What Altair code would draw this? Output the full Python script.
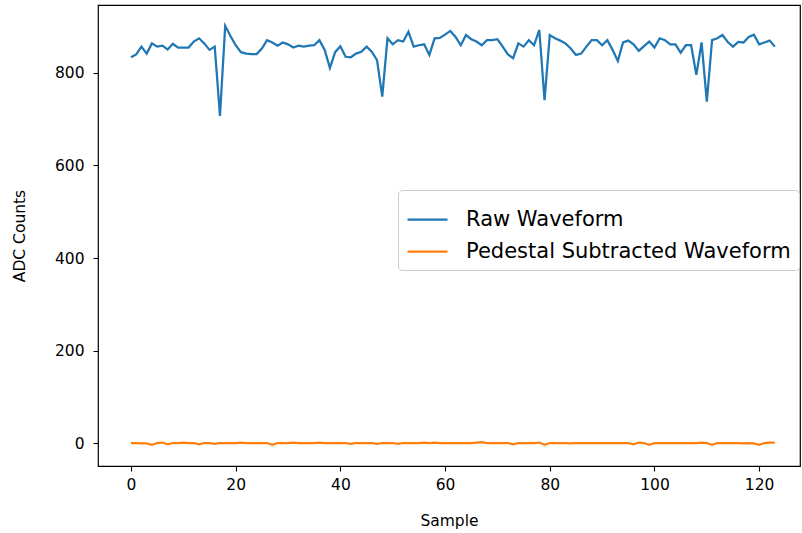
import altair as alt
import pandas as pd

samples = list(range(124))

raw = [834, 840, 857, 842, 864, 857, 859, 851, 863, 855,
       855, 855, 868, 875, 864, 850, 857, 707, 902, 880,
       860, 845, 842, 841, 841, 853, 871, 866, 859, 866,
       862, 855, 859, 857, 859, 860, 871, 850, 811, 845,
       858, 835, 834, 842, 846, 857, 846, 828, 749, 875,
       862, 871, 868, 889, 857, 860, 862, 839, 875, 876,
       883, 891, 878, 860, 882, 873, 868, 860, 871, 871,
       873, 857, 840, 832, 864, 857, 871, 860, 893, 741,
       882, 875, 870, 864, 853, 839, 842, 857, 871, 871,
       860, 871, 850, 826, 866, 870, 862, 848, 858, 868,
       855, 875, 871, 862, 862, 844, 860, 860, 796, 866,
       738, 871, 875, 882, 867, 857, 867, 866, 878, 883,
       862, 866, 870, 857]

ped = [0, 0, -1, -1, -4, 0, 1, -3, 0, 0,
       1, 0, 0, -3, 0, 0, -2, 0, 0, 0,
       0, 1, 0, 0, 0, 0, 0, -4, 0, 0,
       0, 1, 0, 0, 0, 0, 1, 0, 0, 0,
       0, 0, -2, 0, 0, 0, 0, -2, 0, 0,
       0, -2, 0, 0, 0, 0, 1, 0, 1, 0,
       0, 0, 0, 0, 0, 0, 1, 2, 0, 0,
       0, 0, 0, -3, 0, 0, 0, 0, 1, -4,
       0, 0, 0, 0, -1, 0, 0, 0, 0, 0,
       0, 0, 0, 0, 0, 0, -3, 1, 0, -4,
       0, 0, 0, 0, 0, 0, 0, 0, 0, 1,
       0, -4, 0, 0, 0, 0, 0, -1, 0, -1,
       -4, 0, 1, 1]

series_names = ["Raw Waveform", "Pedestal Subtracted Waveform"]
series_colors = ["#1f77b4", "#ff7f0e"]
x_ticks = [0, 20, 40, 60, 80, 100, 120]
y_ticks = [0, 200, 400, 600, 800]

df = pd.DataFrame({
    "Sample": samples + samples,
    "ADC": raw + ped,
    "series": [series_names[0]] * len(raw) + [series_names[1]] * len(ped),
})

FONT = "DejaVu Sans"

chart = alt.Chart(df).mark_line(strokeWidth=2.25, clip=True).encode(
    x=alt.X("Sample:Q",
            scale=alt.Scale(domain=[-6.3, 127.8], nice=False, zero=False),
            axis=alt.Axis(values=x_ticks, title="Sample", grid=False, domain=False,
                          tickSize=5, tickColor="black", tickWidth=1.1,
                          labelFontSize=15.5, labelColor="black", labelPadding=6,
                          labelFont=FONT, titleFont=FONT, titleFontSize=15.5,
                          titleFontWeight="normal", titleColor="black", titlePadding=21)),
    y=alt.Y("ADC:Q",
            scale=alt.Scale(domain=[-49.7, 947], nice=False, zero=False),
            axis=alt.Axis(values=y_ticks, title="ADC Counts", grid=False, domain=False,
                          tickSize=5, tickColor="black", tickWidth=1.1,
                          labelFontSize=15.5, labelColor="black", labelPadding=9,
                          labelFont=FONT, titleFont=FONT, titleFontSize=15.5,
                          titleFontWeight="normal", titleColor="black", titlePadding=27)),
    color=alt.Color("series:N",
                    scale=alt.Scale(domain=series_names, range=series_colors),
                    sort=series_names,
                    legend=alt.Legend(title=None, orient="none", legendX=300, legendY=185,
                                      symbolType="stroke", symbolSize=1600,
                                      symbolStrokeWidth=2.25, labelFontSize=21,
                                      labelFont=FONT, labelColor="black",
                                      labelOffset=17, padding=8, rowPadding=-4,
                                      fillColor="white", strokeColor="#cccccc",
                                      cornerRadius=4, labelLimit=500)),
).properties(
    width=702,
    height=461,
    autosize=alt.AutoSizeParams(type="none"),
    padding={"left": 98, "top": 5, "right": 2, "bottom": 67},
).configure_view(stroke="black", strokeWidth=1.2)

chart.save("out.html", embed_options={"renderer": "svg", "actions": False})
